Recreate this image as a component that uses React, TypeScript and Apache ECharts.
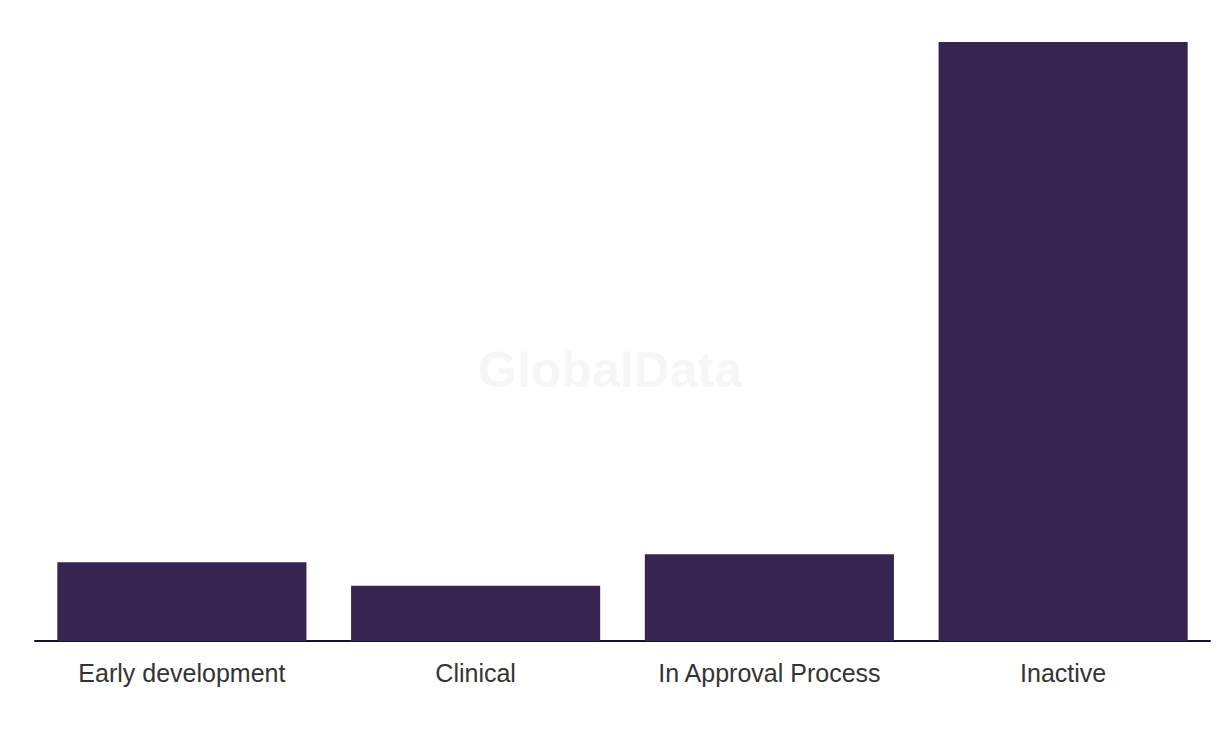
import React, { useEffect, useRef } from "react";
import * as echarts from "echarts";

const categories = ["Early development", "Clinical", "In Approval Process", "Inactive"];
const values = [10, 7, 11, 76];

export default function App() {
  const ref = useRef<HTMLDivElement>(null);
  useEffect(() => {
    if (!ref.current) return;
    const chart = echarts.init(ref.current, null, { renderer: "svg" });
    chart.setOption({
      animation: false,
      backgroundColor: "#ffffff",
      graphic: [
        {
          type: "text",
          left: "center",
          top: 337,
          style: {
            text: "GlobalData",
            font: "bold 50px 'Liberation Sans', Arial, sans-serif",
            fill: "#f6f6f6",
          },
          z: 0,
        },
      ],
      grid: { left: 27, right: 2, top: 34, bottom: 87, containLabel: false },
      xAxis: {
        type: "category",
        data: categories,
        axisLine: { show: true, lineStyle: { color: "#141428", width: 2 } },
        axisTick: { show: false },
        axisLabel: {
          color: "#333333",
          fontSize: 25,
          fontFamily: "'Liberation Sans', Arial, sans-serif",
          margin: 19,
        },
      },
      yAxis: {
        type: "value",
        min: 0,
        max: 76,
        show: false,
        splitLine: { show: false },
      },
      series: [
        {
          type: "bar",
          data: values,
          barCategoryGap: "15.2%",
          itemStyle: { color: "#362451" },
          z: 2,
        },
      ],
    });
    return () => chart.dispose();
  }, []);
  return <div ref={ref} style={{ width: 1204, height: 720 }} />;
}
